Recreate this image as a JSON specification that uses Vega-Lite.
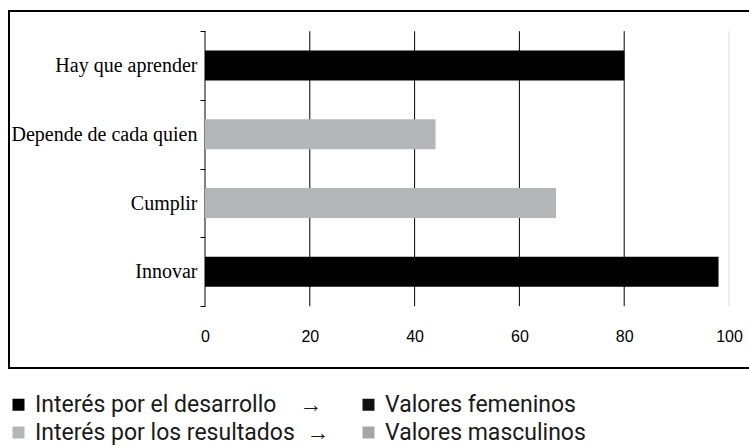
{
  "$schema": "https://vega.github.io/schema/vega-lite/v6.json",
  "width": 741,
  "height": 357,
  "autosize": {"type": "none"},
  "padding": {"left": 9, "top": 11, "right": -1, "bottom": 77},
  "background": "white",
  "config": {"view": {"stroke": "black", "strokeWidth": 2}},
  "layer": [
    {
      "data": {"values": [{"v": 0}, {"v": 20}, {"v": 40}, {"v": 60}, {"v": 80}, {"v": 100}]},
      "mark": {"type": "rule", "strokeWidth": 1},
      "encoding": {
        "x": {
          "field": "v", "type": "quantitative",
          "scale": {"domain": [-37.405, 104.008], "nice": false, "zero": false},
          "axis": {"title": null, "values": [0, 20, 40, 60, 80, 100], "domain": false, "ticks": false, "tickSize": 0, "grid": false, "offset": -44, "labelPadding": 4, "labelFont": "Liberation Sans", "labelFontSize": 16, "labelColor": "black", "labelFlush": false, "labelOverlap": false}
        },
        "y": {
          "datum": 0.5, "type": "quantitative",
          "scale": {"domain": [0.279, 5.326], "nice": false, "zero": false, "reverse": true}
        },
        "y2": {"datum": 4.5},
        "color": {"condition": {"test": "datum.v === 100", "value": "#d9d9d9"}, "value": "black"}
      }
    },
    {
      "data": {"values": [
        {"categoria": "Hay que aprender", "orden": 1, "valor": 80, "grupo": "Interés por el desarrollo"},
        {"categoria": "Depende de cada quien", "orden": 2, "valor": 44, "grupo": "Interés por los resultados"},
        {"categoria": "Cumplir", "orden": 3, "valor": 67, "grupo": "Interés por los resultados"},
        {"categoria": "Innovar", "orden": 4, "valor": 98, "grupo": "Interés por el desarrollo"}
      ]},
      "mark": {"type": "bar", "orient": "horizontal", "height": 30},
      "encoding": {
        "y": {
          "field": "orden", "type": "quantitative",
          "scale": {"domain": [0.279, 5.326], "nice": false, "zero": false, "reverse": true},
          "axis": {
            "title": null, "values": [0.5, 1, 1.5, 2, 2.5, 3, 3.5, 4, 4.5],
            "offset": -196, "domain": false, "grid": false,
            "tickSize": 5, "tickColor": "black", "tickWidth": 1,
            "tickOpacity": {"condition": {"test": "datum.value % 1 === 0", "value": 0}, "value": 1},
            "labelExpr": "datum.value == 1 ? 'Hay que aprender' : datum.value == 2 ? 'Depende de cada quien' : datum.value == 3 ? 'Cumplir' : datum.value == 4 ? 'Innovar' : ''",
            "labelFont": "Liberation Serif", "labelFontSize": 20, "labelColor": "black",
            "labelPadding": 3, "labelFlush": false, "labelOverlap": false, "labelLimit": 300
          }
        },
        "x": {"field": "valor", "type": "quantitative", "scale": {"domain": [-37.405, 104.008], "nice": false, "zero": false}},
        "x2": {"datum": 0},
        "color": {
          "field": "grupo", "type": "nominal",
          "scale": {
            "domain": ["Interés por el desarrollo", "Interés por los resultados", "Valores femeninos", "Valores masculinos"],
            "range": ["#000000", "#b5b6ba", "#111111", "#a6a6a6"]
          },
          "legend": {
            "orient": "none", "legendX": -2, "legendY": 382, "columns": 2, "title": null,
            "symbolType": "square", "symbolSize": 144, "symbolStrokeWidth": 0,
            "labelFont": "Roboto", "labelFontSize": 23, "labelColor": "#1a1a1a", "labelLimit": 500,
            "rowPadding": 4, "columnPadding": 27, "labelOffset": 5, "padding": 0, "offset": 0,
            "labelExpr": "datum.label == 'Interés por el desarrollo' ? datum.label + '\u00a0\u00a0\u00a0\u00a0→' : datum.label == 'Interés por los resultados' ? datum.label + '\u00a0\u00a0→' : datum.label"
          }
        }
      }
    }
  ]
}
